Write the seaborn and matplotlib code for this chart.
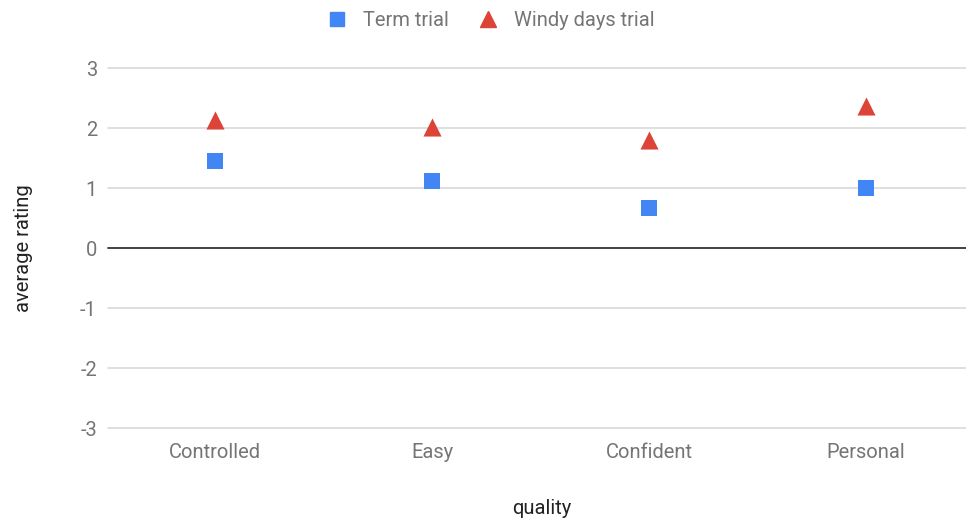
import matplotlib
matplotlib.use("Agg")
import matplotlib.pyplot as plt
import seaborn as sns
import pandas as pd
from matplotlib.lines import Line2D

categories = ["Controlled", "Easy", "Confident", "Personal"]
term_trial = [1.45, 1.12, 0.67, 1.00]
windy_trial = [2.13, 2.02, 1.80, 2.37]
series_names = ["Term trial", "Windy days trial"]
y_ticks = [-3, -2, -1, 0, 1, 2, 3]

df = pd.DataFrame({
    "quality": categories * 2,
    "average rating": term_trial + windy_trial,
    "series": [series_names[0]] * 4 + [series_names[1]] * 4,
})
df["quality"] = pd.Categorical(df["quality"], categories=categories, ordered=True)
df["pos"] = df["quality"].cat.codes

sns.set_theme(style="white")
plt.rcParams["font.family"] = ["Roboto", "DejaVu Sans"]

FS = 14.5
fig = plt.figure(figsize=(9.66, 5.19), dpi=100)
ax = fig.add_axes([108 / 966, 1 - 428 / 519, 1 - 108 / 966, 360 / 519])

palette = {series_names[0]: "#4285F4", series_names[1]: "#DB4437"}
markers = {series_names[0]: "s", series_names[1]: "^"}
sizes_map = {series_names[0]: 125, series_names[1]: 170}

for name in series_names:
    sub = df[df["series"] == name]
    sns.scatterplot(data=sub, x="pos", y="average rating", color=palette[name],
                    marker=markers[name], s=sizes_map[name], linewidth=0,
                    ax=ax, label=name, zorder=3, legend=False)

ax.set_xlim(-0.493, 3.461)
ax.set_ylim(-3, 3)
ax.set_yticks(y_ticks)
ax.set_yticklabels([str(v) for v in y_ticks])
ax.set_xticks(range(len(categories)))
ax.set_xticklabels(categories)
for v in y_ticks:
    if v == 0:
        ax.axhline(v, color="#333333", lw=1.3, zorder=2, clip_on=False)
    else:
        ax.axhline(v, color="#d9d9d9", lw=1.2, zorder=1, clip_on=False)
for s in ax.spines.values():
    s.set_visible(False)
ax.tick_params(axis="both", length=0, labelsize=FS, labelcolor="#757575")
ax.tick_params(axis="y", pad=8)
ax.tick_params(axis="x", pad=10.5)
ax.set_xlabel("quality", fontsize=FS, color="#222222")
ax.xaxis.set_label_coords(0.505, -0.198)
ax.set_ylabel("average rating", fontsize=FS, color="#222222", labelpad=34)

handles = [Line2D([], [], marker=markers[n], color=palette[n], linestyle="none",
                  markersize=10.5 if n == series_names[0] else 12) for n in series_names]
fig.legend(handles, series_names, loc="center", bbox_to_anchor=(0.508, 1 - 21 / 519),
           ncol=2, frameon=False, fontsize=FS, labelcolor="#757575",
           handlelength=1.0, handletextpad=0.8, columnspacing=1.45)

fig.savefig("out.png", dpi=100)
